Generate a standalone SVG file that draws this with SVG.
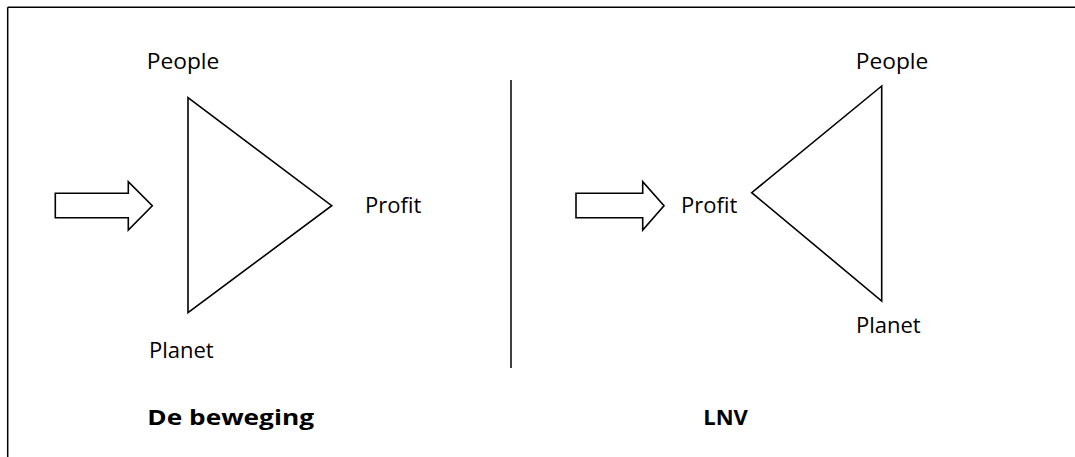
<svg xmlns="http://www.w3.org/2000/svg" width="1075" height="457" viewBox="0 0 1075 457">
<style>
.ln{stroke:#000;stroke-width:1.5;fill:none}
.sh{stroke:#000;stroke-width:1.6;fill:#fff;stroke-linejoin:miter}
.t{font-family:"Open Sans","Noto Sans","Liberation Sans",sans-serif;font-size:22px;fill:#000}
.b{font-weight:bold}
</style>
<rect width="1075" height="457" fill="#fff"/>
<g id="frame">
<line class="ln" x1="7.7" y1="7.3" x2="1075" y2="7.3"/>
<line class="ln" x1="7.7" y1="7.3" x2="7.7" y2="457"/>
</g>
<g id="divider"><line class="ln" x1="511" y1="80" x2="511" y2="368"/></g>
<g id="left-triangle">
<polygon class="sh" points="188,97.7 331.7,205.7 188,312.7"/>
</g>
<g id="right-triangle">
<polygon class="sh" points="881.7,86 751.7,192.7 881.7,301"/>
</g>
<g id="connectors">
<polygon class="sh" points="55.3,193.3 128.3,193.3 128.3,181.7 152.3,205.7 128.3,230 128.3,217.7 55.3,217.7"/>
<polygon class="sh" points="576,193.3 642.7,193.3 642.7,181.7 664,205.7 642.7,230 642.7,217.7 576,217.7"/>
</g>
<g id="labels-left">
<text class="t" x="146.7" y="69.3" textLength="72.7" lengthAdjust="spacingAndGlyphs">People</text>
<text class="t" x="365" y="213.3">Profit</text>
<text class="t" x="149" y="358.3">Planet</text>
<text class="t b" x="147.3" y="425" textLength="166.7" lengthAdjust="spacingAndGlyphs">De beweging</text>
</g>
<g id="labels-right">
<text class="t" x="855.7" y="69.3" textLength="72.7" lengthAdjust="spacingAndGlyphs">People</text>
<text class="t" x="681" y="213.3">Profit</text>
<text class="t" x="856" y="333.3">Planet</text>
<text class="t b" x="703.3" y="425">LNV</text>
</g>
</svg>
